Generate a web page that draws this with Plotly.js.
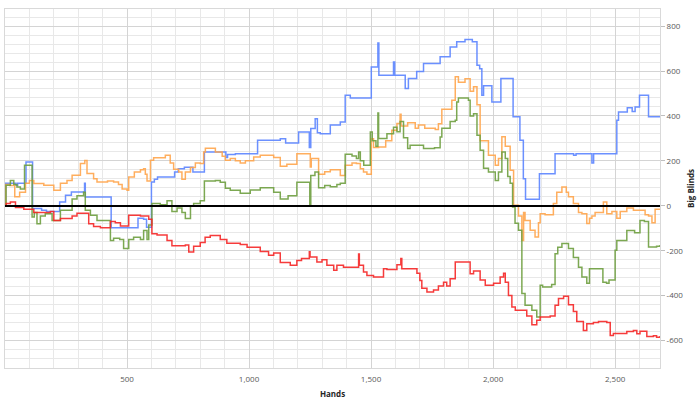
<!DOCTYPE html>
<html>
<head>
<meta charset="utf-8">
<script src="https://cdn.plot.ly/plotly-3.0.1.min.js"></script>
<style>html,body{margin:0;padding:0;background:#fff;}#chart{width:700px;height:406px;}</style>
</head>
<body>
<div id="chart"></div>
<script>
// [hand, big blinds] pairs (step lines)
const blueSeries = [[0,0],[3,100],[45,92],[52,100],[86,195],[111,195],[113,-12],[150,-20],[170,-25],[224,17],[248,47],[272,61],[326,100],[329,39],[432,39],[435,-98],[540,-98],[545,-55],[568,-60],[580,-95],[600,106],[612,118],[625,128],[695,150],[710,165],[735,172],[770,150],[817,240],[905,215],[912,228],[944,232],[1035,292],[1128,298],[1150,280],[1203,329],[1247,260],[1253,344],[1271,388],[1280,325],[1292,321],[1333,360],[1374,373],[1394,492],[1415,480],[1501,618],[1528,725],[1532,581],[1592,640],[1597,581],[1640,522],[1653,567],[1687,598],[1715,633],[1783,663],[1824,707],[1851,730],[1885,740],[1915,730],[1934,626],[1945,610],[1954,492],[1961,534],[1995,462],[2032,567],[2082,396],[2110,292],[2124,120],[2133,29],[2190,143],[2254,232],[2330,225],[2340,232],[2400,232],[2405,190],[2412,232],[2507,381],[2514,418],[2550,436],[2570,420],[2582,440],[2600,492],[2637,396],[2684,396]];

const orangeSeries = [[0,0],[3,95],[20,90],[40,40],[60,60],[84,100],[100,113],[118,99],[159,92],[200,69],[227,100],[254,113],[275,136],[309,188],[327,202],[336,144],[363,120],[377,106],[420,110],[445,106],[465,95],[480,75],[500,69],[507,128],[530,150],[555,160],[568,165],[575,140],[582,110],[596,203],[609,214],[657,225],[677,190],[691,163],[712,150],[725,118],[739,150],[760,170],[780,190],[800,188],[814,240],[821,256],[862,240],[890,220],[903,203],[923,211],[944,200],[964,190],[985,200],[1019,217],[1046,225],[1101,215],[1128,176],[1155,185],[1196,232],[1251,173],[1255,210],[1285,140],[1310,152],[1333,160],[1374,135],[1394,180],[1422,190],[1440,188],[1456,165],[1469,150],[1483,140],[1501,299],[1510,260],[1531,262],[1560,290],[1585,336],[1606,366],[1619,408],[1623,355],[1650,370],[1681,345],[1694,360],[1720,345],[1763,340],[1776,365],[1790,430],[1831,470],[1845,574],[1858,550],[1885,566],[1906,510],[1920,530],[1934,450],[1947,290],[1981,225],[2009,180],[2022,210],[2036,307],[2050,265],[2070,158],[2084,2],[2104,-45],[2118,-154],[2125,-30],[2131,-65],[2152,-109],[2172,-139],[2186,-75],[2193,-35],[2213,-40],[2247,10],[2261,60],[2282,84],[2300,60],[2309,40],[2329,10],[2350,-30],[2364,-35],[2384,-79],[2395,-55],[2405,-45],[2418,-30],[2452,17],[2466,-35],[2487,-25],[2507,-55],[2521,-25],[2548,-10],[2575,-20],[2602,-20],[2623,-40],[2637,-45],[2651,-75],[2664,-15],[2684,-12]];

const greenSeries = [[0,0],[4,91],[22,113],[36,95],[49,84],[63,75],[80,180],[108,180],[111,-50],[120,-30],[131,-80],[145,-45],[165,-35],[193,-65],[227,-20],[275,30],[295,45],[322,60],[329,-20],[350,-42],[377,-65],[432,-154],[445,-145],[470,-150],[486,-190],[507,-150],[527,-140],[555,-150],[568,-110],[582,-150],[589,-85],[602,10],[636,5],[664,22],[684,-25],[705,-10],[725,-30],[739,-57],[760,0],[773,10],[800,22],[817,110],[862,113],[882,105],[903,78],[923,69],[964,56],[1005,70],[1046,80],[1101,60],[1128,30],[1160,45],[1196,105],[1249,5],[1253,135],[1270,150],[1285,80],[1310,90],[1333,85],[1360,95],[1374,100],[1394,230],[1422,222],[1440,210],[1449,240],[1456,200],[1470,180],[1497,329],[1505,290],[1520,265],[1528,413],[1531,300],[1565,321],[1592,350],[1606,330],[1619,375],[1633,303],[1650,255],[1660,270],[1715,255],[1760,258],[1783,306],[1790,345],[1824,375],[1845,381],[1851,462],[1858,480],[1899,470],[1906,400],[1920,410],[1934,314],[1947,247],[1961,167],[1981,150],[2009,113],[2022,150],[2036,240],[2050,210],[2060,130],[2070,100],[2080,-5],[2090,-78],[2104,-109],[2118,-390],[2131,-443],[2159,-465],[2179,-495],[2193,-354],[2203,-362],[2240,-350],[2254,-213],[2265,-185],[2282,-168],[2309,-190],[2329,-230],[2350,-273],[2364,-317],[2384,-345],[2395,-280],[2440,-280],[2450,-340],[2465,-345],[2475,-330],[2500,-198],[2507,-154],[2548,-110],[2580,-120],[2602,-65],[2620,-70],[2637,-183],[2670,-180],[2684,-175]];

const redSeries = [[0,0],[5,10],[22,17],[43,-8],[77,-15],[118,-30],[186,-25],[200,-65],[227,-57],[275,-45],[295,-33],[343,-80],[363,-92],[391,-98],[432,-70],[452,-75],[473,-90],[507,-42],[555,-45],[589,-60],[602,-124],[623,-130],[664,-154],[684,-178],[739,-175],[753,-206],[773,-180],[800,-163],[820,-140],[841,-132],[882,-150],[909,-167],[964,-172],[992,-185],[1046,-203],[1080,-220],[1101,-210],[1128,-252],[1169,-265],[1196,-243],[1215,-235],[1247,-205],[1250,-228],[1278,-250],[1299,-240],[1319,-265],[1347,-287],[1360,-265],[1387,-273],[1449,-215],[1452,-265],[1469,-295],[1483,-310],[1510,-317],[1551,-280],[1565,-283],[1606,-262],[1622,-235],[1626,-280],[1674,-280],[1688,-300],[1700,-332],[1708,-367],[1729,-384],[1756,-375],[1776,-357],[1797,-340],[1810,-357],[1824,-325],[1845,-250],[1906,-302],[1920,-290],[1947,-330],[1968,-354],[2002,-345],[2029,-317],[2043,-300],[2050,-340],[2063,-399],[2077,-451],[2091,-465],[2138,-490],[2159,-530],[2179,-510],[2193,-495],[2234,-490],[2254,-443],[2268,-413],[2289,-403],[2309,-440],[2329,-470],[2343,-515],[2370,-555],[2384,-525],[2411,-520],[2432,-515],[2466,-520],[2480,-577],[2493,-568],[2548,-560],[2575,-555],[2589,-570],[2602,-558],[2630,-582],[2657,-578],[2670,-585],[2684,-580]];

const xTickVals = [500, 1000, 1500, 2000, 2500];
const xTickText = ['500', '1,000', '1,500', '2,000', '2,500'];
const yTickVals = [-600, -400, -200, 0, 200, 400, 600, 800];
const yTickText = ['-600', '-400', '-200', '0', '200', '400', '600', '800'];

const seriesList = [
  {data: blueSeries, color: '#5B84FF'},
  {data: orangeSeries, color: '#FFA54C'},
  {data: greenSeries, color: '#6E9E3F'},
  {data: redSeries, color: '#F52626'}
];

const traces = seriesList.map(s => ({
  type: 'scatter', mode: 'lines',
  x: s.data.map(p => p[0]), y: s.data.map(p => p[1]),
  line: {color: s.color, width: 1.5, shape: 'hv'},
  opacity: 0.9, hoverinfo: 'skip', showlegend: false
}));

const font = {family: 'Open Sans, Noto Sans, sans-serif', size: 8, color: '#595959'};

const layout = {
  width: 700, height: 406,
  margin: {l: 5, r: 40, t: 9, b: 38},
  paper_bgcolor: '#fff', plot_bgcolor: '#fff',
  showlegend: false,
  font: font,
  xaxis: {
    range: [0, 2684], tickmode: 'array', tickvals: xTickVals, ticktext: xTickText,
    showgrid: true, gridcolor: '#d4d4d4', gridwidth: 1,
    minor: {tick0: 0, dtick: 100, showgrid: true, gridcolor: '#e8e8e8', gridwidth: 1},
    zeroline: false, showline: true, linecolor: '#d9d9d9', mirror: true,
    ticks: 'outside', ticklen: 3, tickcolor: 'rgba(0,0,0,0)',
    tickfont: font,
    title: {text: 'Hands', font: {family: 'Open Sans, sans-serif', size: 8, color: '#262626', weight: 'bold'}, standoff: 8},
    automargin: false
  },
  yaxis: {
    side: 'right', range: [-722, 876], tickmode: 'array', tickvals: yTickVals, ticktext: yTickText,
    showgrid: true, gridcolor: '#d4d4d4', gridwidth: 1,
    minor: {tick0: 0, dtick: 40, showgrid: true, gridcolor: '#e8e8e8', gridwidth: 1},
    zeroline: true, zerolinecolor: '#000', zerolinewidth: 2, zerolinelayer: 'above traces',
    showline: true, linecolor: '#d9d9d9', mirror: true,
    ticks: 'outside', ticklen: 4, tickcolor: '#bfbfbf',
    tickfont: font,
    title: {text: 'Big Blinds', font: {family: 'Open Sans, sans-serif', size: 8, color: '#262626', weight: 'bold'}, standoff: 6},
    automargin: false
  }
};

Plotly.newPlot('chart', traces, layout, {displayModeBar: false, staticPlot: true});
</script>
</body>
</html>
